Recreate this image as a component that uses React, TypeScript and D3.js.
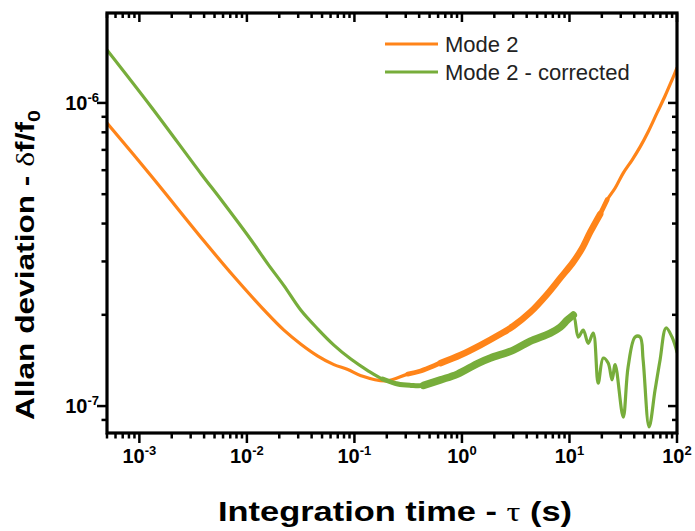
import React from 'react';
import * as d3 from 'd3';

// Mode 2 (orange)
const mode2Tau = [5e-4, 1.29e-3, 3.92e-3, 7.61e-3, 1.57e-2, 2.21e-2, 3.18e-2, 4.57e-2, 6.44e-2, 8.68e-2, 0.115, 0.196, 0.313, 0.413, 0.633, 0.970, 1.488, 2.28, 3.01, 4.33, 6.22, 8.22, 10.85, 13.15, 15.6, 19.3, 22.4, 26.6, 31.6, 38.2, 45.4, 53.8, 65.2, 77.4, 89.9, 100];
const mode2Adev = [8.59e-7, 5.74e-7, 3.53e-7, 2.67e-7, 2.01e-7, 1.78e-7, 1.60e-7, 1.462e-7, 1.37e-7, 1.32e-7, 1.26e-7, 1.21e-7, 1.275e-7, 1.305e-7, 1.386e-7, 1.473e-7, 1.589e-7, 1.728e-7, 1.837e-7, 2.04e-7, 2.342e-7, 2.645e-7, 2.987e-7, 3.32e-7, 3.75e-7, 4.30e-7, 4.79e-7, 5.24e-7, 5.87e-7, 6.48e-7, 7.16e-7, 8.02e-7, 9.27e-7, 1.054e-6, 1.191e-6, 1.304e-6];

// Mode 2 - corrected (green)
const corrTau = [5e-4, 1.29e-3, 3.76e-3, 5.76e-3, 1.094e-2, 1.57e-2, 2.21e-2, 3.18e-2, 4.57e-2, 6.44e-2, 9.26e-2, 0.133, 0.183, 0.253, 0.334, 0.440, 0.633, 0.910, 1.426, 1.842, 3.01, 4.33, 6.64, 8.22, 9.54, 10.85, 12.07, 13.43, 14.94, 16.63, 18.50, 20.6, 22.9, 24.9, 26.6, 31.6, 35.1, 40.8, 45.4, 48.4, 55.0, 62.5, 69.6, 79.1, 89.9, 100];
const corrAdev = [1.496e-6, 9.70e-7, 5.83e-7, 4.79e-7, 3.53e-7, 2.94e-7, 2.497e-7, 2.07e-7, 1.795e-7, 1.589e-7, 1.429e-7, 1.31e-7, 1.228e-7, 1.182e-7, 1.17e-7, 1.17e-7, 1.22e-7, 1.275e-7, 1.386e-7, 1.44e-7, 1.53e-7, 1.638e-7, 1.741e-7, 1.822e-7, 1.922e-7, 1.996e-7, 1.689e-7, 1.781e-7, 1.61e-7, 1.741e-7, 1.19e-7, 1.44e-7, 1.386e-7, 1.22e-7, 1.37e-7, 9.20e-8, 1.345e-7, 1.689e-7, 1.689e-7, 1.42e-7, 8.53e-8, 1.129e-7, 1.42e-7, 1.81e-7, 1.689e-7, 1.507e-7];

const xTickExps = [-3, -2, -1, 0, 1, 2];
const yTickExps = [-7, -6];
const legendLabels = ['Mode 2', 'Mode 2 - corrected'];
const seriesColors = ['#FF8419', '#77AD3B'];

const W = 695, H = 531;
const L = 107, R = 677, T = 13, B = 433;

export default function App() {
  const x = d3.scaleLog().domain([5e-4, 100]).range([L, R]);
  const y = d3.scaleLog().domain([8.15e-8, 1.98e-6]).range([B, T]);

  const mk = (tau: number[], adev: number[]) => tau.map((t, i) => [t, adev[i]] as [number, number]);
  const orange = mk(mode2Tau, mode2Adev);
  const green = mk(corrTau, corrAdev);

  const line = d3.line<[number, number]>()
    .x(d => x(d[0]))
    .y(d => y(d[1]))
    .curve(d3.curveCatmullRom.alpha(0.5));

  const sub = (arr: [number, number][], a: number, b: number) => arr.filter(d => d[0] >= a && d[0] <= b);

  // ticks
  const xMinor: number[] = [];
  for (let e = -4; e <= 1; e++) for (let m = 2; m <= 9; m++) {
    const v = m * Math.pow(10, e);
    if (v >= 5e-4 && v <= 100) xMinor.push(v);
  }
  const yMinor: number[] = [];
  for (let e = -8; e <= -6; e++) for (let m = 2; m <= 9; m++) {
    const v = m * Math.pow(10, e);
    if (v >= 8.15e-8 && v <= 1.98e-6) yMinor.push(v);
  }
  const font = 'Arial, "Liberation Sans", Helvetica, sans-serif';
  const serif = "'Liberation Serif', 'Times New Roman', serif";
  const tickW = 2.5;

  return (
    <svg width={W} height={H} style={{ position: 'absolute', left: 0, top: 0, background: '#fff' }} fontFamily={font}>
      <rect x={0} y={0} width={W} height={H} fill="#fff" />
      <defs>
        <clipPath id="clip"><rect x={L} y={T} width={R - L} height={B - T} /></clipPath>
      </defs>
      {/* series */}
      <g clipPath="url(#clip)" fill="none" strokeLinejoin="round" strokeLinecap="round">
        <path d={line(orange) || ''} stroke={seriesColors[0]} strokeWidth={3.2} />
        <path d={line(sub(orange, 0.25, 25)) || ''} stroke={seriesColors[0]} strokeWidth={4.8} />
        <path d={line(sub(orange, 0.6, 20)) || ''} stroke={seriesColors[0]} strokeWidth={6.5} />
        <path d={line(green) || ''} stroke={seriesColors[1]} strokeWidth={3.2} />
        <path d={line(sub(green, 0.15, 11)) || ''} stroke={seriesColors[1]} strokeWidth={5} />
        <path d={line(sub(green, 0.4, 11)) || ''} stroke={seriesColors[1]} strokeWidth={7.5} />
      </g>
      {/* frame */}
      <rect x={L} y={T} width={R - L} height={B - T} fill="none" stroke="#000" strokeWidth={3.2} />
      {/* x ticks */}
      {xTickExps.map(e => {
        const px = x(Math.pow(10, e));
        return (
          <g key={'xt' + e}>
            <line x1={px} x2={px} y1={B} y2={B + 10} stroke="#000" strokeWidth={tickW} />
            <line x1={px} x2={px} y1={T} y2={T + 9} stroke="#000" strokeWidth={tickW} />
            <text x={px} y={463} textAnchor="middle" fontWeight="bold" fontSize={20}>
              10<tspan fontSize={13} dy={-8}>{e}</tspan>
            </text>
          </g>
        );
      })}
      {xMinor.map((v, i) => {
        const px = x(v);
        return (
          <g key={'xm' + i}>
            <line x1={px} x2={px} y1={B} y2={B + 5.5} stroke="#000" strokeWidth={tickW} />
            <line x1={px} x2={px} y1={T} y2={T + 5} stroke="#000" strokeWidth={tickW} />
          </g>
        );
      })}
      {/* y ticks */}
      {yTickExps.map(e => {
        const py = y(Math.pow(10, e));
        return (
          <g key={'yt' + e}>
            <line x1={L - 10} x2={L} y1={py} y2={py} stroke="#000" strokeWidth={tickW} />
            <line x1={R - 9} x2={R} y1={py} y2={py} stroke="#000" strokeWidth={tickW} />
            <text x={99} y={py + 7} textAnchor="end" fontWeight="bold" fontSize={20}>
              10<tspan fontSize={13} dy={-8}>{e}</tspan>
            </text>
          </g>
        );
      })}
      {yMinor.map((v, i) => {
        const py = y(v);
        return (
          <g key={'ym' + i}>
            <line x1={L - 5.5} x2={L} y1={py} y2={py} stroke="#000" strokeWidth={tickW} />
            <line x1={R - 5} x2={R} y1={py} y2={py} stroke="#000" strokeWidth={tickW} />
          </g>
        );
      })}
      {/* axis titles */}
      <text x={218} y={521} fontWeight="bold" fontSize={27} textLength={354} lengthAdjust="spacingAndGlyphs">
        Integration time - <tspan fontFamily={serif} fontWeight="normal">τ</tspan> (s)
      </text>
      <text transform="translate(34,420) rotate(-90)" fontWeight="bold" fontSize={25} textLength={310} lengthAdjust="spacingAndGlyphs">
        Allan deviation - <tspan fontFamily={serif} fontWeight="normal">δ</tspan>f/f<tspan fontSize={17} dy={6}>0</tspan>
      </text>
      {/* legend */}
      {legendLabels.map((lab, i) => (
        <g key={'lg' + i}>
          <line x1={385} x2={438} y1={44 + i * 28} y2={44 + i * 28} stroke={seriesColors[i]} strokeWidth={3} />
          <text x={445} y={52 + i * 28} fontSize={22} fill="#222">{lab}</text>
        </g>
      ))}
    </svg>
  );
}
